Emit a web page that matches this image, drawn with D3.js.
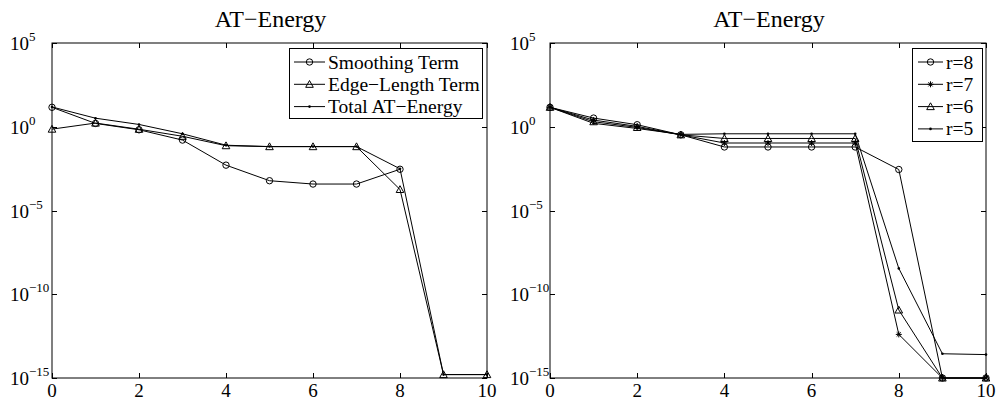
<!DOCTYPE html>
<html>
<head>
<meta charset="utf-8">
<script src="https://cdn.jsdelivr.net/npm/d3@7"></script>
<style>
  html, body { margin: 0; padding: 0; background: #fff; }
  svg { display: block; }
  text { font-family: "Liberation Serif", "Times New Roman", serif; fill: #000; }
</style>
</head>
<body>
<svg id="chart" width="999" height="407"></svg>
<script>
// ---- data ----
const iterations = [0, 1, 2, 3, 4, 5, 6, 7, 8, 9, 10];
const xTicks = [0, 2, 4, 6, 8, 10];
const yTickExponents = [5, 0, -5, -10, -15];
const titleText = "AT\u2212Energy";

// left panel
const smoothingTerm = [14.5, 1.58, 0.66, 0.16, 5.1e-3, 6.0e-4, 3.8e-4, 3.8e-4, 2.9e-3, null, null];
const edgeLengthTerm = [0.72, 1.66, 0.71, 0.27, 0.074, 0.065, 0.065, 0.065, 1.8e-4, 1.6e-15, 1.6e-15];
const totalATEnergy = [15.2, 3.24, 1.37, 0.38, 0.079, 0.0656, 0.0656, 0.0656, 3.1e-3, 1.6e-15, 1.6e-15];
const leftNames = ["Smoothing Term", "Edge\u2212Length Term", "Total AT\u2212Energy"];
const leftMarkers = ["circle", "triangle", "dot"];

// right panel
const r8 = [14.5, 3.3, 1.32, 0.33, 0.062, 0.062, 0.062, 0.062, 2.8e-3, 1e-15, 1e-15];
const r7 = [14.5, 2.5, 1.05, 0.33, 0.107, 0.107, 0.107, 0.107, 4.0e-13, 1e-15, 1e-15];
const r6 = [14.5, 2.0, 0.91, 0.33, 0.20, 0.20, 0.20, 0.20, 1.15e-11, 1e-15, 1e-15];
const r5 = [14.5, 1.6, 0.79, 0.35, 0.38, 0.38, 0.38, 0.38, 3.5e-9, 2.8e-14, 2.5e-14];
const rightNames = ["r=8", "r=7", "r=6", "r=5"];
const rightMarkers = ["circle", "star", "triangle", "dot"];

// ---- drawing ----
const svg = d3.select("#chart");
const TICK_FONT = 19;
const LEGEND_FONT = 19.5;
const TITLE_FONT = 24;

function drawMarker(g, type, x, y) {
  if (type === "circle") {
    g.append("circle").attr("cx", x).attr("cy", y).attr("r", 3.2)
      .attr("fill", "none").attr("stroke", "#000").attr("stroke-width", 1);
  } else if (type === "triangle") {
    const s = 3.8;
    g.append("path")
      .attr("d", `M${x},${y - s} L${x + s},${y + s * 0.8} L${x - s},${y + s * 0.8} Z`)
      .attr("fill", "none").attr("stroke", "#000").attr("stroke-width", 1);
  } else if (type === "star") {
    const s = 3;
    const d = `M${x - s},${y} L${x + s},${y} M${x},${y - s} L${x},${y + s}` +
      ` M${x - s * 0.7},${y - s * 0.7} L${x + s * 0.7},${y + s * 0.7}` +
      ` M${x - s * 0.7},${y + s * 0.7} L${x + s * 0.7},${y - s * 0.7}`;
    g.append("path").attr("d", d).attr("stroke", "#000").attr("stroke-width", 1).attr("fill", "none");
  } else if (type === "dot") {
    g.append("circle").attr("cx", x).attr("cy", y).attr("r", 1.3).attr("fill", "#000");
  }
}

function drawPanel(cfg) {
  const { left, right, top, bottom, series, names, markers, legend, labelX } = cfg;
  const x = d3.scaleLinear().domain([0, 10]).range([left, right]);
  const y = d3.scaleLog().domain([1e-15, 1e5]).range([bottom, top]);
  const g = svg.append("g");

  // title
  g.append("text").attr("x", (left + right) / 2 + 1).attr("y", 27)
    .attr("text-anchor", "middle").attr("font-size", TITLE_FONT).text(titleText);

  // series lines
  const line = d3.line().defined(d => d[1] != null && d[1] > 0)
    .x(d => x(d[0])).y(d => y(d[1]));
  series.forEach((vals, i) => {
    const pts = iterations.map((it, k) => [it, vals[k]]);
    g.append("path").datum(pts).attr("d", line)
      .attr("fill", "none").attr("stroke", "#000").attr("stroke-width", 1);
    const mg = g.append("g");
    pts.filter(p => p[1] != null && p[1] > 0)
      .forEach(p => drawMarker(mg, markers[i], x(p[0]), y(p[1])));
  });

  // axes box
  g.append("rect").attr("x", left).attr("y", top)
    .attr("width", right - left).attr("height", bottom - top)
    .attr("fill", "none").attr("stroke", "#000").attr("stroke-width", 1);

  // x ticks (bottom & top, inward)
  const tickLen = 5;
  xTicks.forEach(t => {
    const xx = Math.round(x(t)) + 0.5;
    g.append("line").attr("x1", xx).attr("x2", xx).attr("y1", bottom).attr("y2", bottom - tickLen)
      .attr("stroke", "#000");
    g.append("line").attr("x1", xx).attr("x2", xx).attr("y1", top).attr("y2", top + tickLen)
      .attr("stroke", "#000");
    g.append("text").attr("x", x(t)).attr("y", bottom + 19)
      .attr("text-anchor", "middle").attr("font-size", TICK_FONT).text(t);
  });

  // y ticks (left & right, inward) with 10^n labels
  yTickExponents.forEach(e => {
    const yy = Math.round(y(Math.pow(10, e))) + 0.5;
    g.append("line").attr("x1", left).attr("x2", left + tickLen).attr("y1", yy).attr("y2", yy)
      .attr("stroke", "#000");
    g.append("line").attr("x1", right).attr("x2", right - tickLen).attr("y1", yy).attr("y2", yy)
      .attr("stroke", "#000");
    const t = g.append("text").attr("x", labelX).attr("y", yy + 6).attr("font-size", TICK_FONT);
    t.append("tspan").text("10");
    t.append("tspan").attr("font-size", 13).attr("dy", -9)
      .text(e < 0 ? "\u2212" + Math.abs(e) : String(e));
  });

  // legend
  const lg = g.append("g");
  lg.append("rect").attr("x", legend.x + 0.5).attr("y", legend.y + 0.5)
    .attr("width", legend.w).attr("height", legend.h)
    .attr("fill", "#fff").attr("stroke", "#000").attr("stroke-width", 1);
  names.forEach((n, i) => {
    const cy = legend.y + 14 + i * 22.3;
    lg.append("line").attr("x1", legend.x + legend.l0).attr("x2", legend.x + legend.l1)
      .attr("y1", cy).attr("y2", cy).attr("stroke", "#000").attr("stroke-width", 1);
    drawMarker(lg, markers[i], legend.x + (legend.l0 + legend.l1) / 2, cy);
    lg.append("text").attr("x", legend.x + legend.tx).attr("y", cy + 6.5)
      .attr("font-size", LEGEND_FONT).text(n);
  });
}

drawPanel({
  left: 52, right: 487, top: 43, bottom: 378, labelX: 10,
  series: [smoothingTerm, edgeLengthTerm, totalATEnergy],
  names: leftNames, markers: leftMarkers,
  legend: { x: 289, y: 48, w: 193, h: 70, l0: 5, l1: 36, tx: 39 }
});

drawPanel({
  left: 550, right: 986, top: 43, bottom: 378, labelX: 510,
  series: [r8, r7, r6, r5],
  names: rightNames, markers: rightMarkers,
  legend: { x: 912, y: 48, w: 70, h: 93, l0: 6, l1: 31, tx: 34 }
});
</script>
</body>
</html>
